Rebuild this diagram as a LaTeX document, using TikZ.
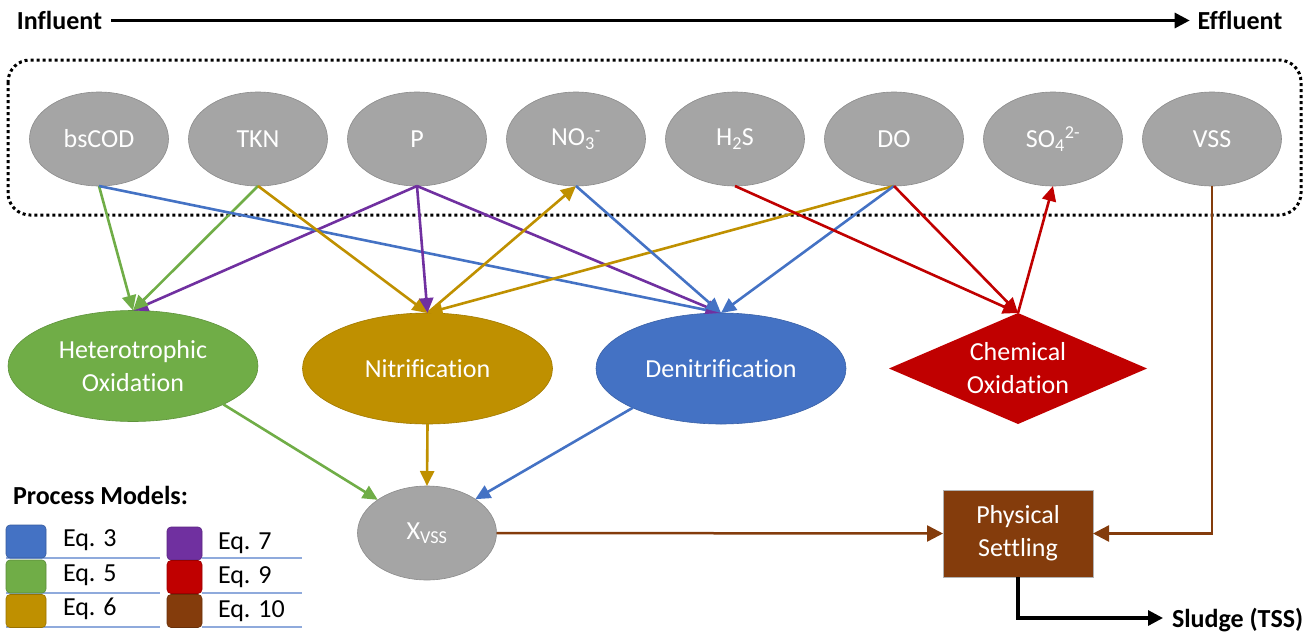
\documentclass[tikz,border=0pt]{standalone}
\usepackage{fontspec}
\setmainfont{Carlito}[Ligatures=NoCommon]
\usetikzlibrary{shapes.geometric,arrows.meta}
\definecolor{cgray}{HTML}{A5A5A5}
\definecolor{cgreen}{HTML}{70AD47}
\definecolor{cgold}{HTML}{BF9000}
\definecolor{cblue}{HTML}{4472C4}
\definecolor{cred}{HTML}{C00000}
\definecolor{cpurple}{HTML}{7030A0}
\definecolor{cbrown}{HTML}{843C0C}
\definecolor{crule}{HTML}{8FAADC}
\begin{document}
\begin{tikzpicture}[x=1pt,y=-1pt,
  every node/.style={font=\fontsize{26}{33}\selectfont, inner sep=0pt, outer sep=0pt},
  var/.style={ellipse, fill=cgray, draw=cgray!85!black, line width=0.6pt,
    minimum width=139pt, minimum height=94pt, text=white},
  proc/.style={ellipse, fill=#1, draw=#1!85!black, line width=0.6pt,
    minimum width=250pt, minimum height=111pt, text=white, align=center},
  link/.style={draw=#1, line width=2.6pt, -{Triangle[length=15pt,width=14pt]}},
  blink/.style={draw=cbrown, line width=2.5pt, -{Triangle[length=16pt,width=16pt]}},
  flowline/.style={draw=black, line width=3.2pt, -{Triangle[length=15pt,width=15pt]}},
  boldlabel/.style={font=\bfseries\fontsize{26}{33}\selectfont},
  swatch/.style={fill=#1, draw=#1!80!black, line width=0.6pt, rounded corners=4pt,
    minimum height=33pt},
  legrule/.style={draw=crule, line width=1.2pt},
]
\useasboundingbox (0,0) rectangle (1315,632);

% flow header
\node[boldlabel] (inf) at (59.5,20.5) {Influent};
\node[boldlabel] (eff) at (1240,20.5) {Effluent};
\draw[flowline, line width=3pt, shorten <=9pt, shorten >=8pt] (inf) -- (eff);

% dotted frame
\draw[line width=3pt, dash pattern=on 3pt off 3pt, rounded corners=22pt]
  (8,60) rectangle (1301,215);

% variables
\node[var] (bscod) at (99,139) {bsCOD};
\node[var] (tkn) at (258,139) {TKN};
\node[var] (p) at (417,139) {P};
\node[var] (no3) at (576,139) {NO\textsubscript{3}\textsuperscript{-}};
\node[var] (h2s) at (735,139) {H\textsubscript{2}S};
\node[var] (do) at (894,139) {DO};
\node[var] (so4) at (1053,139) {SO\textsubscript{4}\textsuperscript{2-}};
\node[var] (vss) at (1212,139) {VSS};

% processes
\node[proc=cgreen] (het) at (133,366) {Heterotrophic\\Oxidation};
\node[proc=cgold] (nit) at (427.5,368.5) {Nitrification};
\node[proc=cblue] (den) at (721,368.5) {Denitrification};
\node[diamond, aspect=2.3, fill=cred, minimum width=258pt, minimum height=111pt,
  text=white, align=center] (chem) at (1018,368.5) {Chemical\\Oxidation};
\node[var] (xvss) at (427,533) {X\textsubscript{VSS}};
\node[fill=cbrown, draw=gray!60, line width=0.8pt, minimum width=150pt,
  minimum height=87pt, text=white, align=center] (phys) at (1018,533.5) {Physical\\Settling};

% links from variables
\draw[link=cpurple] (p.south) -- (het.north);
\draw[link=cgreen] (bscod.south) -- (het.north);
\draw[link=cgreen] (tkn.south) -- (het.north);
\draw[link=cblue] (bscod.south) -- (den.north);
\draw[link=cgold] (tkn.south) -- (nit.north);
\draw[link=cpurple] (p.south) -- (den.north);
\draw[link=cgold] (do.south) -- (nit.north);
\draw[link=cgold] (nit.north) -- (no3.south);
\draw[link=cpurple] (p.south) -- (nit.north);
\draw[link=cblue] (no3.south) -- (den.north);
\draw[link=cblue] (do.south) -- (den.north);
\draw[link=cred] (h2s.south) -- (chem.north);
\draw[link=cred] (do.south) -- (chem.north);
\draw[link=cred] (chem.north) -- (so4.south);

% links to X_VSS
\draw[link=cgreen] (het.-23.7) -- (xvss.146);
\draw[link=cgold] (nit.south) -- (xvss.north);
\draw[link=cblue] (den.-156) -- (xvss.35);

% settling
\draw[blink] (xvss.east) -- (phys.west);
\draw[blink] (vss.south) |- (phys.east);
\node[boldlabel, anchor=base west] (sludge) at (1172,627) {Sludge (TSS)};
\coordinate (sludgetip) at (1163,618);
\draw[flowline] (phys.south) |- (sludgetip);

% legend
\node[boldlabel, anchor=base west] (legtitle) at (13,504) {Process Models:};
\draw[legrule] (6,558) -- (160,558);
\draw[legrule] (6,593) -- (160,593);
\draw[legrule] (6,627) -- (160,627);
\draw[legrule] (202,558) -- (302,558);
\draw[legrule] (202,593) -- (302,593);
\draw[legrule] (202,627) -- (302,627);
\node[swatch=cblue, minimum width=40pt] (sw3) at (26,541.5) {};
\node[swatch=cgreen, minimum width=40pt] (sw5) at (26,576.5) {};
\node[swatch=cgold, minimum width=40pt] (sw6) at (26,611) {};
\node[swatch=cpurple, minimum width=35pt] (sw7) at (184.5,543.5) {};
\node[swatch=cred, minimum width=35pt] (sw9) at (184.5,577) {};
\node[swatch=cbrown, minimum width=35pt] (sw10) at (184.5,611) {};
\node[anchor=base west] (eq3) at (63,546) {Eq. 3};
\node[anchor=base west] (eq5) at (63,581) {Eq. 5};
\node[anchor=base west] (eq6) at (63,615) {Eq. 6};
\node[anchor=base west] (eq7) at (218,549) {Eq. 7};
\node[anchor=base west] (eq9) at (218,583) {Eq. 9};
\node[anchor=base west] (eq10) at (218,617) {Eq. 10};
\end{tikzpicture}
\end{document}
